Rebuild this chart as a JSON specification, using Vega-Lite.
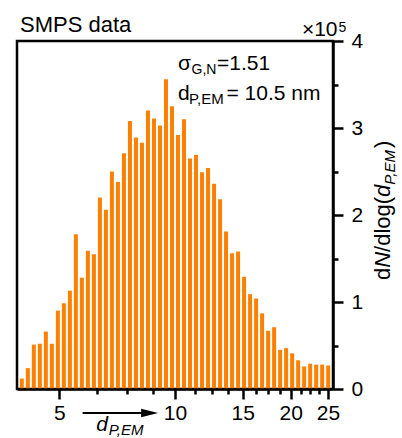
{
  "$schema": "https://vega.github.io/schema/vega-lite/v6.json",
  "width": 316,
  "height": 348,
  "autosize": {"type": "none"},
  "padding": {"left": 17, "top": 41, "right": 69, "bottom": 49},
  "config": {
    "font": "Liberation Sans",
    "view": {"stroke": "black", "strokeWidth": 2.5},
    "text": {"font": "Liberation Sans", "color": "black"},
    "axis": {"labelFont": "Liberation Sans", "labelColor": "black", "tickColor": "black", "domainColor": "black", "grid": false}
  },
  "datasets": {
    "bins": [
      {"d": 3.995, "n": 12000}, {"d": 4.142, "n": 24000}, {"d": 4.294, "n": 51000}, {"d": 4.451, "n": 52000},
      {"d": 4.614, "n": 66000}, {"d": 4.783, "n": 52000}, {"d": 4.958, "n": 90000}, {"d": 5.140, "n": 98500},
      {"d": 5.328, "n": 113000}, {"d": 5.523, "n": 178000}, {"d": 5.725, "n": 128000}, {"d": 5.935, "n": 159000},
      {"d": 6.153, "n": 155000}, {"d": 6.378, "n": 220000}, {"d": 6.612, "n": 206000}, {"d": 6.854, "n": 250000},
      {"d": 7.105, "n": 238000}, {"d": 7.365, "n": 271000}, {"d": 7.635, "n": 308000}, {"d": 7.915, "n": 289000},
      {"d": 8.205, "n": 283000}, {"d": 8.505, "n": 320000}, {"d": 8.817, "n": 311000}, {"d": 9.140, "n": 303000},
      {"d": 9.475, "n": 356000}, {"d": 9.822, "n": 325000}, {"d": 10.182, "n": 292000}, {"d": 10.555, "n": 310000},
      {"d": 10.941, "n": 265000}, {"d": 11.342, "n": 269000}, {"d": 11.757, "n": 249000}, {"d": 12.188, "n": 254000},
      {"d": 12.635, "n": 236000}, {"d": 13.098, "n": 218000}, {"d": 13.577, "n": 181000}, {"d": 14.075, "n": 156000},
      {"d": 14.590, "n": 158000}, {"d": 15.125, "n": 129000}, {"d": 15.679, "n": 109000}, {"d": 16.253, "n": 104000},
      {"d": 16.849, "n": 87000}, {"d": 17.466, "n": 67000}, {"d": 18.106, "n": 71000}, {"d": 18.769, "n": 45000},
      {"d": 19.456, "n": 47000}, {"d": 20.169, "n": 41000}, {"d": 20.908, "n": 33000}, {"d": 21.674, "n": 26000},
      {"d": 22.468, "n": 29000}, {"d": 23.291, "n": 28000}, {"d": 24.144, "n": 28000}, {"d": 25.029, "n": 27000}
    ]
  },
  "layer": [
    {
      "data": {"name": "bins"},
      "mark": {"type": "bar", "size": 4, "color": "#ff8000", "clip": true},
      "encoding": {
        "x": {
          "field": "d", "type": "quantitative",
          "scale": {"type": "log", "domain": [4, 25], "nice": false},
          "axis": {
            "orient": "bottom", "title": null,
            "values": [5, 6.25, 7.5, 8.75, 10, 11.25, 12.5, 13.75, 15, 16.25, 17.5, 18.75, 20, 21.25, 22.5, 23.75, 25],
            "labelExpr": "indexof([5,10,15,20,25], datum.value) >= 0 ? format(datum.value, 'd') : ''",
            "tickSize": {"condition": {"test": "indexof([5,10,15,20,25], datum.value) >= 0", "value": 10}, "value": 5},
            "tickWidth": 2.5, "domainWidth": 2.5, "labelFontSize": 21, "labelPadding": 3,
            "labelOverlap": false, "labelBound": false, "labelFlush": false, "zindex": 1
          }
        },
        "y": {
          "field": "n", "type": "quantitative",
          "scale": {"domain": [0, 400000], "nice": false},
          "axis": {
            "orient": "right", "title": null,
            "values": [0, 50000, 100000, 150000, 200000, 250000, 300000, 350000, 400000],
            "labelExpr": "datum.value % 100000 === 0 ? format(datum.value / 100000, 'd') : ''",
            "tickSize": {"condition": {"test": "datum.value % 100000 === 0", "value": 10}, "value": 5},
            "tickWidth": 2.5, "domainWidth": 2.5, "labelFontSize": 21, "labelPadding": 8,
            "labelOverlap": false, "labelBound": false, "labelFlush": false, "zindex": 1
          }
        }
      }
    },
    {
      "data": {"values": [{}]},
      "mark": {"type": "rule", "color": "black", "strokeWidth": 2, "yOffset": 24},
      "encoding": {"x": {"datum": 5.75}, "x2": {"datum": 8.5}, "y": {"datum": 0}}
    },
    {
      "data": {"values": [{}]},
      "mark": {"type": "point", "shape": "M-1,-0.5L1,0L-1,0.5Z", "filled": true, "color": "black", "opacity": 1, "size": 289, "yOffset": 24},
      "encoding": {"x": {"datum": 8.59}, "y": {"datum": 0}}
    },
    {"data": {"values": [{}]}, "mark": {"type": "text", "text": "SMPS data", "align": "left", "baseline": "alphabetic", "fontSize": 22, "dx": -2, "dy": -9}, "encoding": {"x": {"datum": 4}, "y": {"datum": 400000}}},
    {"data": {"values": [{}]}, "mark": {"type": "text", "text": "×10", "align": "right", "baseline": "alphabetic", "fontSize": 21, "dx": 9.5, "dy": -5}, "encoding": {"x": {"datum": 25}, "y": {"datum": 400000}}},
    {"data": {"values": [{}]}, "mark": {"type": "text", "text": "5", "align": "left", "baseline": "alphabetic", "fontSize": 14, "dx": 10.5, "dy": -9.5}, "encoding": {"x": {"datum": 25}, "y": {"datum": 400000}}},
    {"data": {"values": [{}]}, "mark": {"type": "text", "text": "σ", "align": "left", "baseline": "alphabetic", "fontSize": 21, "dx": 3, "dy": 29}, "encoding": {"x": {"datum": 10}, "y": {"datum": 400000}}},
    {"data": {"values": [{}]}, "mark": {"type": "text", "text": "G,N", "align": "left", "baseline": "alphabetic", "fontSize": 14, "dx": 16.5, "dy": 33}, "encoding": {"x": {"datum": 10}, "y": {"datum": 400000}}},
    {"data": {"values": [{}]}, "mark": {"type": "text", "text": "=1.51", "align": "left", "baseline": "alphabetic", "fontSize": 21, "dx": 42, "dy": 29}, "encoding": {"x": {"datum": 10}, "y": {"datum": 400000}}},
    {"data": {"values": [{}]}, "mark": {"type": "text", "text": "d", "align": "left", "baseline": "alphabetic", "fontSize": 21, "dx": 3, "dy": 59}, "encoding": {"x": {"datum": 10}, "y": {"datum": 400000}}},
    {"data": {"values": [{}]}, "mark": {"type": "text", "text": "P,EM", "align": "left", "baseline": "alphabetic", "fontSize": 15, "dx": 14, "dy": 63}, "encoding": {"x": {"datum": 10}, "y": {"datum": 400000}}},
    {"data": {"values": [{}]}, "mark": {"type": "text", "text": "= 10.5 nm", "align": "left", "baseline": "alphabetic", "fontSize": 21, "dx": 51.5, "dy": 59}, "encoding": {"x": {"datum": 10}, "y": {"datum": 400000}}},
    {"data": {"values": [{}]}, "mark": {"type": "text", "text": "d", "align": "left", "baseline": "alphabetic", "fontSize": 21, "fontStyle": "italic", "dx": 37, "dy": 42}, "encoding": {"x": {"datum": 5}, "y": {"datum": 0}}},
    {"data": {"values": [{}]}, "mark": {"type": "text", "text": "P,EM", "align": "left", "baseline": "alphabetic", "fontSize": 15, "fontStyle": "italic", "dx": 49.5, "dy": 46}, "encoding": {"x": {"datum": 5}, "y": {"datum": 0}}},
    {"data": {"values": [{}]}, "mark": {"type": "text", "text": "d", "angle": 270, "align": "left", "baseline": "alphabetic", "fontSize": 22, "dx": 109, "dy": 62}, "encoding": {"x": {"datum": 25}, "y": {"datum": 0}}},
    {"data": {"values": [{}]}, "mark": {"type": "text", "text": "N", "angle": 270, "align": "left", "baseline": "alphabetic", "fontSize": 22, "fontStyle": "italic", "dx": 121.2, "dy": 62}, "encoding": {"x": {"datum": 25}, "y": {"datum": 0}}},
    {"data": {"values": [{}]}, "mark": {"type": "text", "text": "/dlog(", "angle": 270, "align": "left", "baseline": "alphabetic", "fontSize": 22, "dx": 137.1, "dy": 62}, "encoding": {"x": {"datum": 25}, "y": {"datum": 0}}},
    {"data": {"values": [{}]}, "mark": {"type": "text", "text": "d", "angle": 270, "align": "left", "baseline": "alphabetic", "fontSize": 22, "fontStyle": "italic", "dx": 192.1, "dy": 62}, "encoding": {"x": {"datum": 25}, "y": {"datum": 0}}},
    {"data": {"values": [{}]}, "mark": {"type": "text", "text": "P,EM", "angle": 270, "align": "left", "baseline": "alphabetic", "fontSize": 15, "fontStyle": "italic", "dx": 204.3, "dy": 67}, "encoding": {"x": {"datum": 25}, "y": {"datum": 0}}},
    {"data": {"values": [{}]}, "mark": {"type": "text", "text": ")", "angle": 270, "align": "left", "baseline": "alphabetic", "fontSize": 22, "dx": 241, "dy": 62}, "encoding": {"x": {"datum": 25}, "y": {"datum": 0}}}
  ]
}
